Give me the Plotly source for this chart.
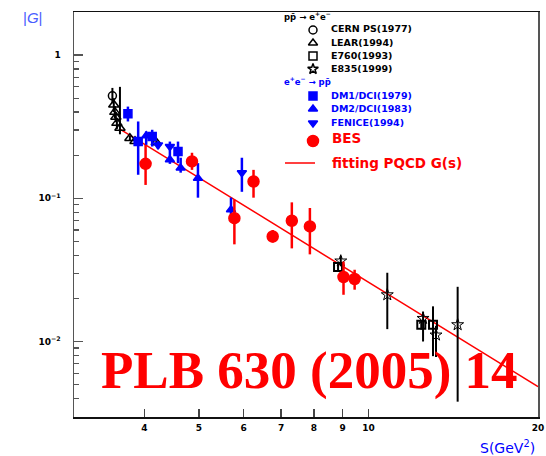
import plotly.graph_objects as go
import math

# ---------------- data ----------------
cern_s = [3.51]
cern_g = [0.52]
cern_up = [0.07]
cern_dn = [0.06]

lear_s = [3.53, 3.545, 3.56, 3.575, 3.62, 3.77, 3.85, 4.20]
lear_g = [0.45, 0.40, 0.37, 0.335, 0.31, 0.263, 0.25, 0.245]
lear_up = [0.05, 0.04, 0.03, 0.03, 0.29, 0.01, 0.01, 0.01]
lear_dn = [0.05, 0.04, 0.03, 0.03, 0.03, 0.01, 0.01, 0.01]

e760_s = [8.83, 12.41, 13.02]
e760_g = [0.0331, 0.0131, 0.0131]
e760_up = [0.0025, 0.0010, 0.0045]
e760_dn = [0.0025, 0.0010, 0.0052]

e835_s = [8.93, 10.80, 12.50, 13.18, 14.40]
e835_g = [0.0365, 0.0212, 0.0145, 0.0111, 0.0131]
e835_up = [0.003, 0.009, 0.0017, 0.0018, 0.011]
e835_dn = [0.003, 0.009, 0.0045, 0.0033, 0.0093]

dm1_s = [3.74, 3.90, 4.13, 4.59]
dm1_g = [0.39, 0.249, 0.27, 0.212]
dm1_up = [0.047, 0.095, 0.031, 0.037]
dm1_dn = [0.046, 0.103, 0.040, 0.036]

dm2_s = [4.03, 4.44, 4.64, 4.98, 5.70]
dm2_g = [0.273, 0.186, 0.163, 0.138, 0.0831]
dm2_up = [0.020, 0.012, 0.029, 0.038, 0.018]
dm2_dn = [0.037, 0.012, 0.012, 0.037, 0.0064]

fen_s = [4.23, 4.44, 5.96]
fen_g = [0.236, 0.23, 0.151]
fen_up = [0.015, 0.019, 0.041]
fen_dn = [0.015, 0.034, 0.040]

bes_s = [4.02, 4.86, 5.78, 6.25, 6.76, 7.31, 7.87, 9.03, 9.45]
bes_g = [0.174, 0.181, 0.0727, 0.131, 0.0541, 0.0697, 0.0636, 0.0282, 0.0273]
bes_up = [0.062, 0.027, 0.025, 0.027, 0.006, 0.024, 0.022, 0.008, 0.0044]
bes_dn = [0.050, 0.023, 0.025, 0.030, 0.005, 0.025, 0.023, 0.007, 0.0043]

fit_s = [3.62, 20.0]
fit_g = [0.304, 0.00484]

x_ticks = [4, 5, 6, 7, 8, 9, 10, 20]
x_ticklabels = ["4", "5", "6", "7", "8", "9", "10", "20"]
y_ticks = [0.01, 0.1, 1]
y_ticklabels = ["10<sup>−2</sup>", "10<sup>−1</sup>", "1"]
y_minor = [k * 10 ** e for e in (-3, -2, -1) for k in range(2, 10)]

legend_black = ["CERN PS(1977)", "LEAR(1994)", "E760(1993)", "E835(1999)"]
legend_blue = ["DM1/DCI(1979)", "DM2/DCI(1983)", "FENICE(1994)"]

# ---------------- figure ----------------
W, H = 546, 456
L, R, T, B = 74, 8, 12, 39
PW, PH = W - L - R, H - T - B

def px(x):
    return (x - L) / PW

def py(y):
    return (H - B - y) / PH

BLUE = "#0000ff"
RED = "#ff0000"
BLACK = "#000000"
SANS = "DejaVu Sans"

fig = go.Figure()

def add_series(s, g, up, dn, symbol, color, size, ew, lw=1.5):
    fig.add_trace(go.Scatter(
        x=s, y=g, mode="markers",
        marker=dict(symbol=symbol, color=color, size=size,
                    line=dict(color=color, width=lw)),
        error_y=dict(type="data", symmetric=False, array=up, arrayminus=dn,
                     color=color, thickness=ew, width=0),
        showlegend=False, hoverinfo="skip"))

fig.add_trace(go.Scatter(x=fit_s, y=fit_g, mode="lines",
                         line=dict(color=RED, width=1.5),
                         showlegend=False, hoverinfo="skip"))

add_series(cern_s, cern_g, cern_up, cern_dn, "circle-open", BLACK, 8, 2)
add_series(lear_s, lear_g, lear_up, lear_dn, "triangle-up-open", BLACK, 9, 2)
add_series(e760_s, e760_g, e760_up, e760_dn, "square-open", BLACK, 8, 2, 2)
add_series(e835_s, e835_g, e835_up, e835_dn, "star-open", BLACK, 9, 2, 1)
add_series(dm1_s, dm1_g, dm1_up, dm1_dn, "square", BLUE, 8, 2.5)
add_series(dm2_s, dm2_g, dm2_up, dm2_dn, "triangle-up", BLUE, 8, 2.5)
add_series(fen_s, fen_g, fen_up, fen_dn, "triangle-down", BLUE, 8, 2.5)
add_series(bes_s, bes_g, bes_up, bes_dn, "circle", RED, 11, 2.5)

# legend markers on an overlay axis in plot-fraction coordinates
leg_marker_x = px(313)
leg_syms = [("circle-open", BLACK, 30), ("triangle-up-open", BLACK, 43),
            ("square-open", BLACK, 56), ("star-open", BLACK, 69),
            ("square", BLUE, 96), ("triangle-up", BLUE, 109),
            ("triangle-down", BLUE, 123), ("circle", RED, 141)]
for sym, col, yy in leg_syms:
    fig.add_trace(go.Scatter(
        x=[leg_marker_x], y=[py(yy)], xaxis="x2", yaxis="y2", mode="markers",
        marker=dict(symbol=sym, color=col, size=11 if sym == "circle" else 8,
                    line=dict(color=col, width=1.5)),
        showlegend=False, hoverinfo="skip"))
fig.add_trace(go.Scatter(x=[px(285), px(315)], y=[py(163), py(163)],
                         xaxis="x2", yaxis="y2", mode="lines",
                         line=dict(color=RED, width=1.5),
                         showlegend=False, hoverinfo="skip"))

ann = []
def text(x, y, t, size, color, xanchor="left", family=SANS, bold=True):
    ann.append(dict(x=px(x), y=py(y), xref="paper", yref="paper", text=t,
                    showarrow=False, xanchor=xanchor, yanchor="middle",
                    font=dict(family=family, size=size, color=color,
                              weight="bold" if bold else "normal")))

text(282, 16, "pp̄ → e<sup>+</sup>e<sup>−</sup>", 8.5, BLACK)
for lbl, yy in zip(legend_black, [29, 42, 55, 68]):
    text(329, yy, lbl, 9.5, BLACK)
text(282, 81, "e<sup>+</sup>e<sup>−</sup> → pp̄", 8.5, BLUE)
for lbl, yy in zip(legend_blue, [95, 108, 122]):
    text(329, yy, lbl, 9.5, BLUE)
text(330, 138, "BES", 13.5, RED)
text(330, 163, "fitting PQCD G(s)", 13.5, RED)

text(21, 17, "|<i>G</i>|", 15, "#4a5cff", family="Liberation Sans", bold=False)
text(537, 447, "S(GeV<sup>2</sup>)", 14, BLUE, xanchor="right", bold=False)

ann.append(dict(x=px(309), y=py(370), xref="paper", yref="paper",
                text="PLB 630 (2005) 14", showarrow=False,
                xanchor="center", yanchor="middle",
                font=dict(family="Liberation Serif", size=53, color=RED,
                          weight="bold")))

tickfont = dict(family=SANS, size=9, color=BLACK, weight="bold")

fig.update_layout(
    width=W, height=H,
    margin=dict(l=L, r=R, t=T, b=B, pad=0, autoexpand=False),
    paper_bgcolor="white", plot_bgcolor="white",
    showlegend=False,
    annotations=ann,
    xaxis=dict(type="log", range=[math.log10(3.0), math.log10(20.0)],
               tickvals=x_ticks, ticktext=x_ticklabels, automargin=False,
               ticks="inside", ticklen=8, tickwidth=1.5, tickcolor="#444",
               showgrid=False, zeroline=False,
               showline=True, linecolor="#111", linewidth=1.5, mirror=True,
               tickfont=tickfont, ticklabelstandoff=2),
    yaxis=dict(type="log", range=[math.log10(0.00297), math.log10(2.0)],
               tickvals=y_ticks, ticktext=y_ticklabels, automargin=False,
               ticks="inside", ticklen=9, tickwidth=1.5, tickcolor="#555",
               minor=dict(tickvals=y_minor, ticks="inside", ticklen=5,
                          tickwidth=1.2, tickcolor="#555", showgrid=False),
               showgrid=False, zeroline=False,
               showline=True, linecolor="#555", linewidth=1.5, mirror=True,
               tickfont=tickfont, ticklabelstandoff=10),
    xaxis2=dict(range=[0, 1], overlaying="x", visible=False, fixedrange=True),
    yaxis2=dict(range=[0, 1], overlaying="y", visible=False, fixedrange=True),
)

fig.write_html("out.html",
               config={"displayModeBar": False, "staticPlot": True},
               post_script="document.body.style.margin='0px';"
                           "document.body.style.overflow='hidden';")
